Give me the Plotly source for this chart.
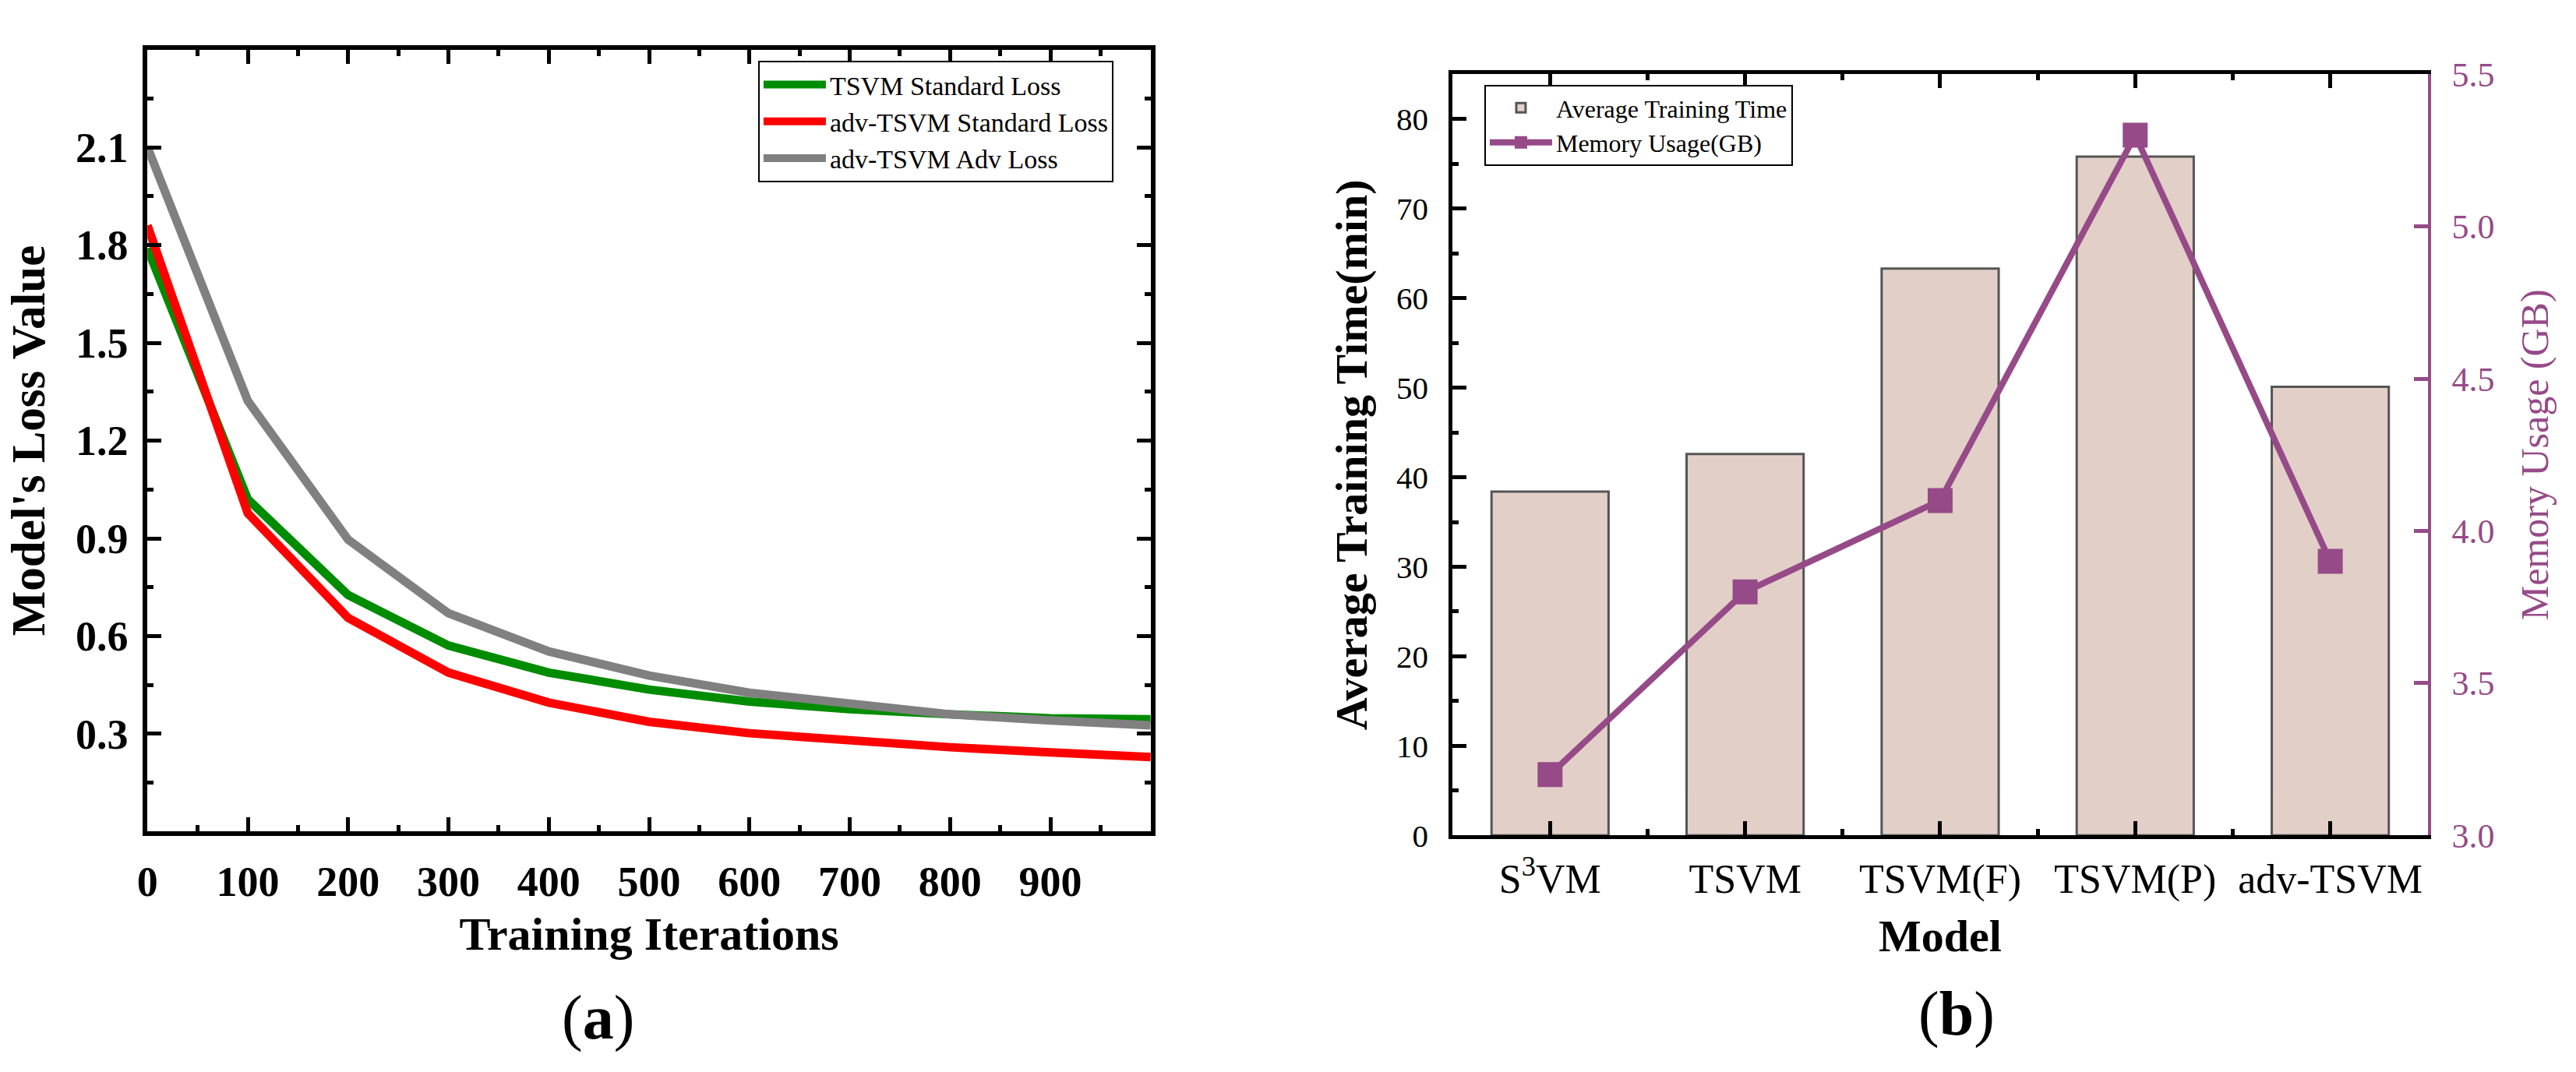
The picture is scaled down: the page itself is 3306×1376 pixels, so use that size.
import plotly.graph_objects as go

# ---------------- data ----------------
iterations = [0, 100, 200, 300, 400, 500, 600, 700, 800, 900, 1000]
tsvm_standard_loss = [1.79, 1.02, 0.726, 0.571, 0.488, 0.436, 0.399, 0.376, 0.360, 0.348, 0.345]
adv_tsvm_standard_loss = [1.86, 0.977, 0.656, 0.488, 0.396, 0.337, 0.302, 0.278, 0.259, 0.243, 0.229]
adv_tsvm_adv_loss = [2.10, 1.322, 0.896, 0.670, 0.553, 0.479, 0.426, 0.395, 0.360, 0.341, 0.326]

x_tickvals = [0, 100, 200, 300, 400, 500, 600, 700, 800, 900]
y_tickvals_a = [0.3, 0.6, 0.9, 1.2, 1.5, 1.8, 2.1]

models = ["S<sup>3</sup>VM", "TSVM", "TSVM(F)", "TSVM(P)", "adv-TSVM"]
avg_training_time = [38.4, 42.6, 63.3, 75.8, 50.1]
memory_usage_gb = [3.2, 3.8, 4.1, 5.3, 3.9]

# ---------------- style ----------------
W, H = 3306, 1376
SERIF = "Liberation Serif"
GREEN, RED, GRAY = "#008C00", "#FF0000", "#808080"
PURPLE = "#964A88"
BAR_FILL, BAR_EDGE = "#E2CFC8", "#555555"


def px_x(p):
    return p / W


def px_y(p):
    return 1 - p / H


fig = go.Figure()

# ---- panel (a) ----
for name, vals, col in [("TSVM Standard Loss", tsvm_standard_loss, GREEN),
                        ("adv-TSVM Standard Loss", adv_tsvm_standard_loss, RED),
                        ("adv-TSVM Adv Loss", adv_tsvm_adv_loss, GRAY)]:
    fig.add_trace(go.Scatter(x=iterations, y=vals, mode="lines", name=name,
                             line=dict(color=col, width=11),
                             xaxis="x", yaxis="y", legend="legend"))

# ---- panel (b) ----
model_pos = list(range(len(models)))
fig.add_trace(go.Bar(x=model_pos, y=avg_training_time, name="Average Training Time",
                     width=0.6, marker=dict(color=BAR_FILL, line=dict(color=BAR_EDGE, width=3)),
                     xaxis="x2", yaxis="y2", legend="legend2"))
fig.add_trace(go.Scatter(x=model_pos, y=memory_usage_gb, name="Memory Usage(GB)",
                         mode="lines+markers",
                         line=dict(color=PURPLE, width=8),
                         marker=dict(symbol="square", size=32, color=PURPLE),
                         xaxis="x2", yaxis="y3", legend="legend2"))

axis_common = dict(showline=True, linecolor="black", showgrid=False, zeroline=False,
                   ticks="inside", tickcolor="black")

fig.update_layout(
    width=W, height=H,
    margin=dict(l=0, r=0, t=0, b=0),
    paper_bgcolor="white", plot_bgcolor="white",
    font=dict(family=SERIF, color="black"),
    xaxis=dict(**axis_common,
               domain=[px_x(176), px_x(1469)], anchor="y",
               range=[0, 1000], tickvals=x_tickvals,
               linewidth=6, ticklen=18, tickwidth=5, mirror="ticks",
               minor=dict(ticks="inside", ticklen=8, tickwidth=5, dtick=50, tick0=0, tickcolor="black"),
               tickfont=dict(family=SERIF, size=54, weight="bold"),
               ticklabelstandoff=12,
               title=dict(text="Training Iterations", standoff=18,
                          font=dict(family=SERIF, size=60, weight="bold"))),
    yaxis=dict(**axis_common,
               domain=[px_y(1082), px_y(41)], anchor="x",
               range=[0, 2.4], tickvals=y_tickvals_a, tickformat=".1f",
               linewidth=6, ticklen=18, tickwidth=5, mirror="ticks",
               minor=dict(ticks="inside", ticklen=8, tickwidth=5, dtick=0.15, tick0=0, tickcolor="black"),
               tickfont=dict(family=SERIF, size=54, weight="bold"),
               ticklabelstandoff=8,
               title=dict(text="Model's Loss Value", standoff=22,
                          font=dict(family=SERIF, size=61, weight="bold"))),
    xaxis2=dict(**axis_common,
                domain=[px_x(1858), px_x(3115)], anchor="y2",
                range=[-0.5, 4.5], tickvals=model_pos, ticktext=models,
                linewidth=5, ticklen=18, tickwidth=5, mirror="ticks",
                minor=dict(ticks="inside", ticklen=8, tickwidth=5, dtick=1, tick0=0.5, tickcolor="black"),
                tickfont=dict(family=SERIF, size=52),
                ticklabelstandoff=6,
                title=dict(text="Model", standoff=25,
                           font=dict(family=SERIF, size=58, weight="bold"))),
    yaxis2=dict(**axis_common,
                domain=[px_y(1087), px_y(74)], anchor="x2",
                range=[0, 85], dtick=10, tick0=0,
                linewidth=5, ticklen=18, tickwidth=5, mirror=False,
                minor=dict(ticks="inside", ticklen=8, tickwidth=5, dtick=5, tick0=0, tickcolor="black"),
                tickfont=dict(family=SERIF, size=41),
                ticklabelstandoff=18,
                title=dict(text="Average Training Time(min)", standoff=20,
                           font=dict(family=SERIF, size=58, weight="bold"))),
    yaxis3=dict(showline=True, linecolor=PURPLE, linewidth=4, showgrid=False, zeroline=False,
                overlaying="y2", side="right", anchor="x2",
                range=[3.0, 5.5], dtick=0.5, tick0=3.0, tickformat=".1f",
                ticks="inside", ticklen=18, tickwidth=5, tickcolor=PURPLE,
                tickfont=dict(family=SERIF, size=44, color=PURPLE),
                ticklabelstandoff=18,
                title=dict(text="Memory Usage (GB)", standoff=35,
                           font=dict(family=SERIF, size=50, color=PURPLE))),
    legend=dict(x=px_x(963), y=px_y(56), xanchor="left", yanchor="top",
                bordercolor="black", borderwidth=2, bgcolor="white",
                font=dict(family=SERIF, size=34), itemwidth=80, tracegroupgap=0),
    legend2=dict(x=px_x(1899), y=px_y(88), xanchor="left", yanchor="top",
                 bordercolor="black", borderwidth=2, bgcolor="white",
                 font=dict(family=SERIF, size=32), itemwidth=80, tracegroupgap=0),
    showlegend=True,
    annotations=[
        dict(text="(<b>a</b>)", x=px_x(757), y=px_y(1330), xref="paper", yref="paper",
             xanchor="center", yanchor="middle", showarrow=False,
             font=dict(family=SERIF, size=80, color="black")),
        dict(text="(<b>b</b>)", x=px_x(2508), y=px_y(1325), xref="paper", yref="paper",
             xanchor="center", yanchor="middle", showarrow=False,
             font=dict(family=SERIF, size=80, color="black")),
    ],
)

fig.write_html("out.html")
